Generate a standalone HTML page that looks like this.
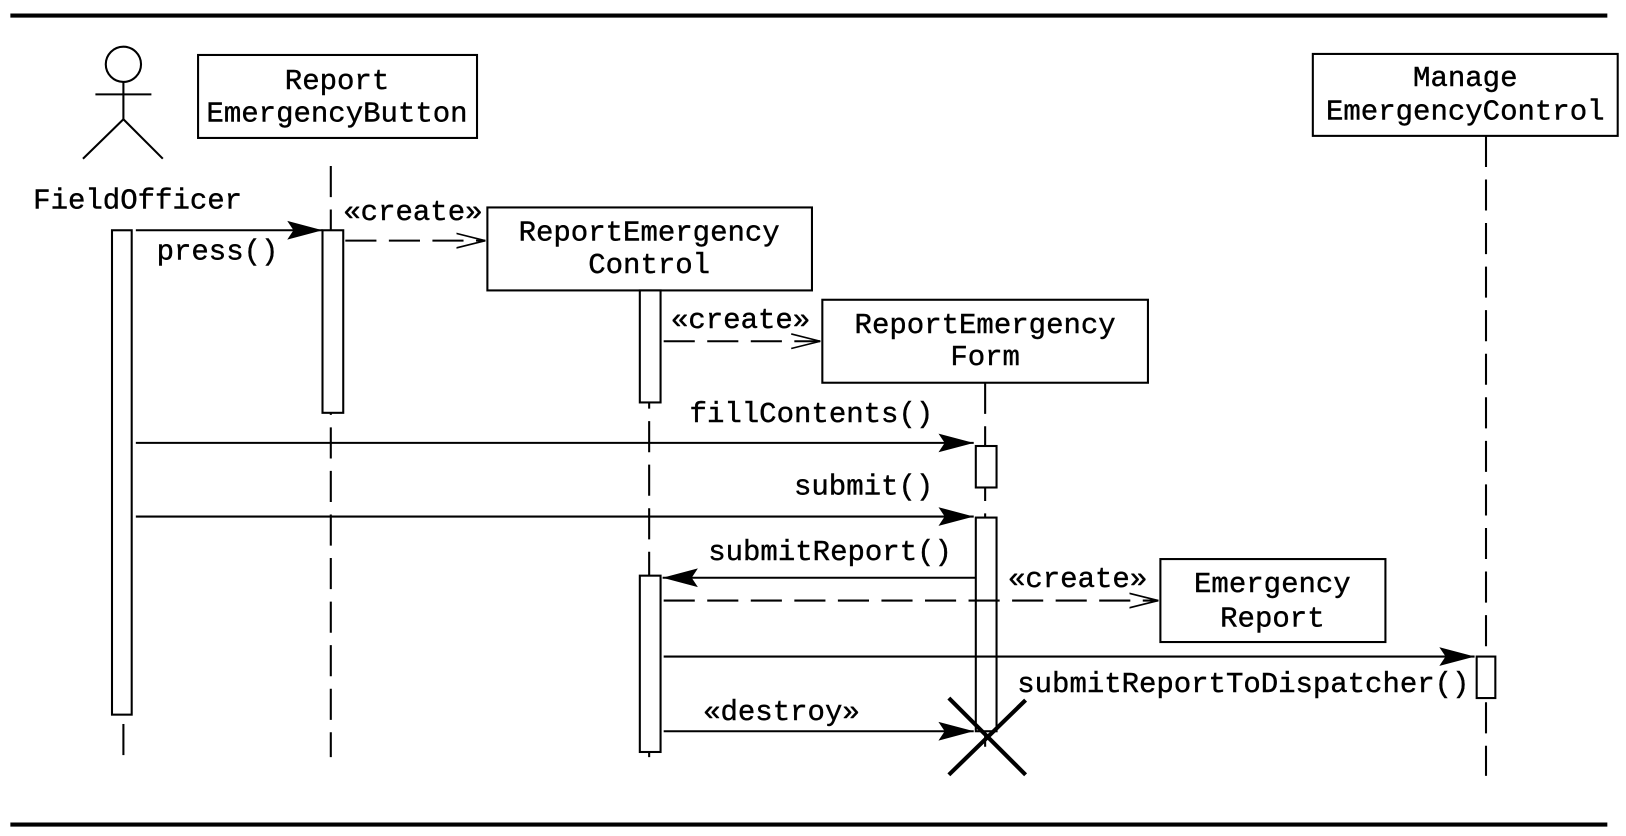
<!DOCTYPE html>
<html><head><style>html,body{margin:0;padding:0;background:#fff}svg{display:block}</style></head>
<body>
<svg width="1626" height="836" viewBox="0 0 1568 806" preserveAspectRatio="none" xmlns="http://www.w3.org/2000/svg">
<defs>
<marker id="f" markerWidth="34" markerHeight="24" refX="34" refY="12" orient="auto" markerUnits="userSpaceOnUse"><path d="M0,3 L34,12 L0,21 L6,12 Z" fill="#000"/></marker>
<marker id="o" markerWidth="30" markerHeight="20" refX="28" refY="10" orient="auto" markerUnits="userSpaceOnUse"><path d="M0,3 L28,10 L0,17" fill="none" stroke="#000" stroke-width="1.6"/></marker>
</defs>
<g stroke="#000" fill="none">
<line x1="10" y1="15" x2="1550" y2="15" stroke-width="4"/>
<line x1="10" y1="795" x2="1550" y2="795" stroke-width="4"/>
<g stroke-width="2">
<circle cx="119" cy="62" r="17"/>
<line x1="119" y1="79" x2="119" y2="115"/>
<line x1="92" y1="91" x2="146" y2="91"/>
<line x1="119" y1="115" x2="80" y2="153"/>
<line x1="119" y1="115" x2="157" y2="153"/>
</g>
<g stroke-width="2" stroke-dasharray="30 12">
<line x1="119" y1="698" x2="119" y2="730"/>
<line x1="319" y1="160" x2="319" y2="730"/>
<line x1="626" y1="280" x2="626" y2="730"/>
<line x1="950" y1="369" x2="950" y2="720"/>
<line x1="1433" y1="131" x2="1433" y2="748"/>
</g>
<g fill="#fff" stroke-width="2">
<rect x="191" y="53" width="269" height="80"/>
<rect x="470" y="200" width="313" height="80"/>
<rect x="793" y="289" width="314" height="80"/>
<rect x="1119" y="539" width="217" height="80"/>
<rect x="1266" y="52" width="294" height="79"/>
<rect x="108" y="222" width="19" height="467"/>
<rect x="311" y="222" width="20" height="176"/>
<rect x="617" y="280" width="20" height="108"/>
<rect x="617" y="555" width="20" height="170"/>
<rect x="941" y="430" width="20" height="40"/>
<rect x="941" y="499" width="20" height="206"/>
<rect x="1424" y="633" width="18" height="40"/>
</g>
<g stroke-width="2">
<line x1="131" y1="222" x2="311" y2="222" marker-end="url(#f)"/>
<line x1="131" y1="427" x2="939" y2="427" marker-end="url(#f)"/>
<line x1="131" y1="498" x2="939" y2="498" marker-end="url(#f)"/>
<line x1="941" y1="557" x2="639" y2="557" marker-end="url(#f)"/>
<line x1="640" y1="633" x2="1422" y2="633" marker-end="url(#f)"/>
<line x1="640" y1="705" x2="939" y2="705" marker-end="url(#f)"/>
</g>
<g stroke-width="2" stroke-dasharray="30 12">
<line x1="333" y1="232" x2="468" y2="232" marker-end="url(#o)"/>
<line x1="640" y1="329" x2="791" y2="329" marker-end="url(#o)"/>
<line x1="640" y1="579" x2="1117" y2="579" marker-end="url(#o)"/>
</g>
<g stroke-width="4">
<line x1="915" y1="673" x2="989" y2="747"/>
<line x1="989" y1="675" x2="915" y2="747"/>
</g>
</g>
<g font-family="Liberation Mono, monospace" font-size="28" fill="#000" stroke="#000" stroke-width="0.4">
<text x="32" y="201">FieldOfficer</text>
<text x="325" y="86" text-anchor="middle">Report</text>
<text x="325" y="117" text-anchor="middle">EmergencyButton</text>
<text x="626" y="232" text-anchor="middle">ReportEmergency</text>
<text x="626" y="263" text-anchor="middle">Control</text>
<text x="950" y="321" text-anchor="middle">ReportEmergency</text>
<text x="950" y="352" text-anchor="middle">Form</text>
<text x="1227" y="571" text-anchor="middle">Emergency</text>
<text x="1227" y="604" text-anchor="middle">Report</text>
<text x="1413" y="83" text-anchor="middle">Manage</text>
<text x="1413" y="115" text-anchor="middle">EmergencyControl</text>
<text x="151" y="250">press()</text>
<text x="331" y="212">«create»</text>
<text x="647" y="316">«create»</text>
<text x="900" y="407" text-anchor="end">fillContents()</text>
<text x="900" y="477" text-anchor="end">submit()</text>
<text x="918" y="540" text-anchor="end">submitReport()</text>
<text x="972" y="566">«create»</text>
<text x="981" y="667" textLength="436">submitReportToDispatcher()</text>
<text x="678" y="694">«destroy»</text>
</g>
</svg>
</body></html>
